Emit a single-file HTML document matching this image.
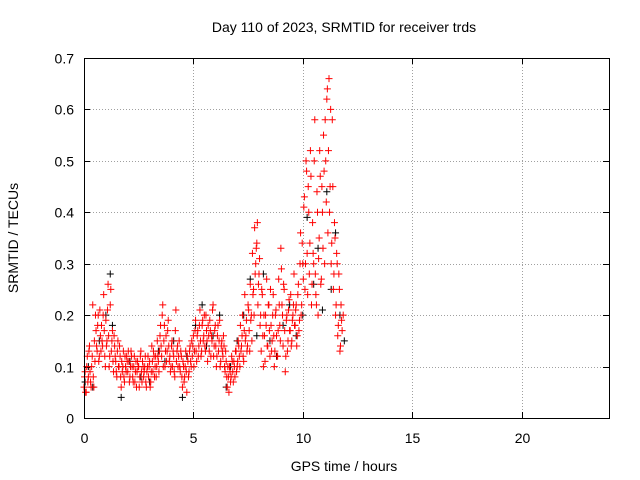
<!DOCTYPE html>
<html><head><meta charset="utf-8"><style>
body{margin:0;background:#fff}
svg{display:block;font-family:"Liberation Sans",sans-serif}
</style></head><body>
<svg id="chart" width="640" height="480" viewBox="0 0 640 480">
<rect width="640" height="480" fill="#fff"/>
<text x="344" y="32" font-size="14" text-anchor="middle">Day 110 of 2023, SRMTID for receiver trds</text>
<text x="344" y="471" font-size="14" text-anchor="middle">GPS time / hours</text>
<text x="18" y="238" font-size="14" text-anchor="middle" transform="rotate(-90 18 238)">SRMTID / TECUs</text>
<g id="grid"></g>
<g id="ticks"></g>
<g id="marks"></g>
<rect x="84.5" y="58.5" width="525" height="360" fill="none" stroke="#000"/>
</svg>
<script>
const xTicks=[0,5,10,15,20];
const yTicks=[0,0.1,0.2,0.3,0.4,0.5,0.6,0.7];
const blackT=[0.05,0.2,0.4,0.7,1.0,1.2,1.3,1.7,2.1,2.6,3.0,3.4,3.7,4.1,4.5,4.7,5.1,5.4,5.6,5.9,6.2,6.5,6.7,7.0,7.3,7.6,7.9,8.2,8.5,8.8,9.1,9.4,9.7,10.0,10.2,10.5,10.7,10.9,11.1,11.3,11.5,11.7,11.9];
const blackV=[0.07,0.1,0.06,0.15,0.2,0.28,0.18,0.04,0.11,0.08,0.07,0.13,0.11,0.15,0.04,0.12,0.18,0.22,0.14,0.16,0.2,0.06,0.1,0.15,0.2,0.27,0.16,0.28,0.15,0.12,0.18,0.22,0.16,0.2,0.39,0.26,0.33,0.21,0.44,0.25,0.36,0.2,0.15];
const redT=[0.0,0.05,0.1,0.15,0.2,0.25,0.3,0.35,0.4,0.45,0.5,0.55,0.6,0.65,0.7,0.75,0.8,0.85,0.9,0.95,1.0,1.05,1.1,1.15,1.2,1.25,1.3,1.35,1.4,1.45,1.5,1.55,1.6,1.65,1.7,1.75,1.8,1.85,1.9,1.95,2.0,2.05,2.1,2.15,2.2,2.25,2.3,2.35,2.4,2.45,2.5,2.55,2.6,2.65,2.7,2.75,2.8,2.85,2.9,2.95,3.0,3.05,3.1,3.15,3.2,3.25,3.3,3.35,3.4,3.45,3.5,3.55,3.6,3.65,3.7,3.75,3.8,3.85,3.9,3.95,4.0,4.05,4.1,4.15,4.2,4.25,4.3,4.35,4.4,4.45,4.5,4.55,4.6,4.65,4.7,4.75,4.8,4.85,4.9,4.95,5.0,5.05,5.1,5.15,5.2,5.25,5.3,5.35,5.4,5.45,5.5,5.55,5.6,5.65,5.7,5.75,5.8,5.85,5.9,5.95,6.0,6.05,6.1,6.15,6.2,6.25,6.3,6.35,6.4,6.45,6.5,6.55,6.6,6.65,6.7,6.75,6.8,6.85,6.9,6.95,7.0,7.05,7.1,7.15,7.2,7.25,7.3,7.35,7.4,7.45,7.5,7.55,7.6,7.65,7.7,7.75,7.8,7.85,7.9,7.95,8.0,8.05,8.1,8.15,8.2,8.25,8.3,8.35,8.4,8.45,8.5,8.55,8.6,8.65,8.7,8.75,8.8,8.85,8.9,8.95,9.0,9.05,9.1,9.15,9.2,9.25,9.3,9.35,9.4,9.45,9.5,9.55,9.6,9.65,9.7,9.75,9.8,9.85,9.9,9.95,10.0,10.05,10.1,10.15,10.2,10.25,10.3,10.35,10.4,10.45,10.5,10.55,10.6,10.65,10.7,10.75,10.8,10.85,10.9,10.95,11.0,11.05,11.1,11.15,11.2,11.25,11.3,11.35,11.4,11.45,11.5,11.55,11.6,11.65,11.7,11.75,11.8,11.85,11.9,11.95,12.0];
const redV=[0.06,0.09,0.05,0.12,0.08,0.14,0.07,0.1,0.22,0.06,0.11,0.17,0.13,0.2,0.12,0.16,0.18,0.14,0.24,0.12,0.19,0.15,0.26,0.1,0.22,0.13,0.17,0.09,0.14,0.11,0.08,0.15,0.1,0.12,0.06,0.09,0.13,0.07,0.1,0.12,0.09,0.11,0.08,0.13,0.1,0.07,0.12,0.09,0.06,0.11,0.1,0.08,0.13,0.07,0.1,0.09,0.12,0.06,0.1,0.08,0.11,0.07,0.14,0.09,0.12,0.1,0.08,0.15,0.11,0.13,0.18,0.12,0.22,0.15,0.1,0.16,0.13,0.19,0.11,0.09,0.14,0.1,0.12,0.08,0.21,0.13,0.1,0.15,0.09,0.12,0.06,0.1,0.08,0.13,0.05,0.11,0.09,0.14,0.1,0.12,0.16,0.13,0.19,0.11,0.17,0.14,0.21,0.12,0.18,0.15,0.2,0.13,0.17,0.11,0.16,0.19,0.12,0.15,0.22,0.14,0.18,0.1,0.16,0.13,0.19,0.11,0.15,0.12,0.14,0.09,0.11,0.06,0.08,0.1,0.07,0.12,0.09,0.11,0.08,0.13,0.1,0.15,0.12,0.18,0.14,0.2,0.11,0.24,0.16,0.13,0.22,0.17,0.26,0.2,0.32,0.25,0.37,0.3,0.34,0.22,0.28,0.18,0.13,0.24,0.1,0.16,0.2,0.27,0.14,0.22,0.12,0.18,0.15,0.24,0.1,0.2,0.16,0.12,0.27,0.18,0.33,0.22,0.14,0.25,0.09,0.19,0.13,0.21,0.17,0.24,0.15,0.2,0.28,0.18,0.22,0.16,0.26,0.19,0.36,0.22,0.3,0.41,0.25,0.5,0.32,0.45,0.28,0.52,0.22,0.38,0.3,0.58,0.24,0.44,0.2,0.35,0.47,0.27,0.4,0.55,0.3,0.5,0.62,0.36,0.66,0.45,0.3,0.58,0.25,0.38,0.2,0.32,0.16,0.28,0.13,0.22,0.17,0.2];
const red2T=[0.025,0.075,0.125,0.175,0.225,0.275,0.325,0.375,0.425,0.475,0.525,0.575,0.625,0.675,0.725,0.775,0.825,0.875,0.925,0.975,1.025,1.075,1.125,1.175,1.225,1.275,1.325,1.375,1.425,1.475,1.525,1.575,1.625,1.675,1.725,1.775,1.825,1.875,1.925,1.975,2.025,2.075,2.125,2.175,2.225,2.275,2.325,2.375,2.425,2.475,2.525,2.575,2.625,2.675,2.725,2.775,2.825,2.875,2.925,2.975,3.025,3.075,3.125,3.175,3.225,3.275,3.325,3.375,3.425,3.475,3.525,3.575,3.625,3.675,3.725,3.775,3.825,3.875,3.925,3.975,4.025,4.075,4.125,4.175,4.225,4.275,4.325,4.375,4.425,4.475,4.525,4.575,4.625,4.675,4.725,4.775,4.825,4.875,4.925,4.975,5.025,5.075,5.125,5.175,5.225,5.275,5.325,5.375,5.425,5.475,5.525,5.575,5.625,5.675,5.725,5.775,5.825,5.875,5.925,5.975,6.025,6.075,6.125,6.175,6.225,6.275,6.325,6.375,6.425,6.475,6.525,6.575,6.625,6.675,6.725,6.775,6.825,6.875,6.925,6.975,7.025,7.075,7.125,7.175,7.225,7.275,7.325,7.375,7.425,7.475,7.525,7.575,7.625,7.675,7.725,7.775,7.825,7.875,7.925,7.975,8.025,8.075,8.125,8.175,8.225,8.275,8.325,8.375,8.425,8.475,8.525,8.575,8.625,8.675,8.725,8.775,8.825,8.875,8.925,8.975,9.025,9.075,9.125,9.175,9.225,9.275,9.325,9.375,9.425,9.475,9.525,9.575,9.625,9.675,9.725,9.775,9.825,9.875,9.925,9.975,10.025,10.075,10.125,10.175,10.225,10.275,10.325,10.375,10.425,10.475,10.525,10.575,10.625,10.675,10.725,10.775,10.825,10.875,10.925,10.975,11.025,11.075,11.125,11.175,11.225,11.275,11.325,11.375,11.425,11.475,11.525,11.575,11.625,11.675,11.725,11.775,11.825,11.875,11.925,11.975];
const red2V=[0.08,0.05,0.1,0.07,0.13,0.09,0.06,0.12,0.08,0.15,0.2,0.14,0.18,0.11,0.21,0.13,0.15,0.2,0.17,0.1,0.14,0.21,0.16,0.12,0.25,0.15,0.11,0.16,0.12,0.09,0.13,0.1,0.14,0.08,0.11,0.1,0.08,0.12,0.09,0.11,0.13,0.07,0.1,0.12,0.08,0.1,0.07,0.11,0.09,0.1,0.06,0.12,0.09,0.11,0.08,0.1,0.07,0.09,0.12,0.1,0.06,0.09,0.11,0.13,0.08,0.12,0.1,0.12,0.09,0.16,0.14,0.2,0.1,0.18,0.13,0.11,0.17,0.14,0.12,0.1,0.15,0.13,0.09,0.17,0.11,0.14,0.12,0.1,0.13,0.08,0.11,0.07,0.1,0.09,0.12,0.08,0.13,0.11,0.15,0.14,0.1,0.17,0.13,0.16,0.12,0.18,0.15,0.13,0.19,0.16,0.14,0.2,0.15,0.18,0.13,0.17,0.16,0.21,0.12,0.17,0.14,0.12,0.18,0.15,0.1,0.14,0.13,0.16,0.1,0.13,0.08,0.1,0.05,0.09,0.08,0.11,0.07,0.1,0.13,0.09,0.11,0.14,0.1,0.13,0.16,0.12,0.17,0.15,0.19,0.14,0.21,0.13,0.19,0.15,0.24,0.2,0.28,0.33,0.38,0.26,0.31,0.2,0.25,0.16,0.2,0.11,0.18,0.14,0.22,0.17,0.25,0.13,0.2,0.16,0.13,0.21,0.12,0.17,0.22,0.15,0.29,0.2,0.26,0.17,0.12,0.2,0.15,0.23,0.17,0.14,0.19,0.22,0.18,0.21,0.14,0.24,0.17,0.3,0.2,0.34,0.27,0.43,0.3,0.48,0.24,0.4,0.34,0.47,0.26,0.32,0.5,0.28,0.22,0.4,0.31,0.52,0.26,0.45,0.33,0.48,0.58,0.42,0.64,0.52,0.4,0.6,0.34,0.45,0.28,0.35,0.22,0.3,0.18,0.25,0.14,0.19];
const X0=84,X1=609,Y0=418,Y1=58;
const xs=h=>X0+(h/24)*(X1-X0);
const ys=v=>Y0-(v/0.7)*(Y0-Y1);
const NS="http://www.w3.org/2000/svg";
const grid=document.getElementById('grid'),ticks=document.getElementById('ticks'),marks=document.getElementById('marks');
function mk(tag,attrs,parent){const e=document.createElementNS(NS,tag);for(const k in attrs)e.setAttribute(k,attrs[k]);parent.appendChild(e);return e;}
xTicks.forEach(t=>{const x=Math.round(xs(t))+0.5;
 if(t>0){const g=mk('line',{x1:x,x2:x,y1:Y1,y2:Y0,stroke:'#a0a0a0','stroke-dasharray':'1,2'},grid);
 
 }
 mk('line',{x1:x,x2:x,y1:Y0,y2:Y0-6,stroke:'#000'},ticks);mk('line',{x1:x,x2:x,y1:Y1,y2:Y1+6,stroke:'#000'},ticks);
 const l=mk('text',{x:x,y:443,'font-size':14,'text-anchor':'middle'},ticks);l.textContent=t;
 
 });
yTicks.forEach(t=>{const y=Math.round(ys(t))+0.5;
 if(t>0&&t<0.7){const g=mk('line',{x1:X0,x2:X1,y1:y,y2:y,stroke:'#a0a0a0','stroke-dasharray':'1,2'},grid);
 
 }
 mk('line',{x1:X0,x2:X0+6,y1:y,y2:y,stroke:'#000'},ticks);mk('line',{x1:X1,x2:X1-6,y1:y,y2:y,stroke:'#000'},ticks);
 const l=mk('text',{x:74,y:y+5,'font-size':14,'text-anchor':'end'},ticks);l.textContent=t;
 
 });
function plus(t,v,c){const x=xs(t),y=ys(v);
 const p=mk('path',{d:`M${x-3.5},${y}H${x+3.5}M${x},${y-3.5}V${y+3.5}`,stroke:c,'stroke-width':1,fill:'none'},marks);
 
 }
blackT.forEach((t,i)=>plus(t,blackV[i],'#000'));
redT.forEach((t,i)=>plus(t,redV[i],'#f00'));
red2T.forEach((t,i)=>plus(t,red2V[i],'#f00'));
</script>
</body></html>
